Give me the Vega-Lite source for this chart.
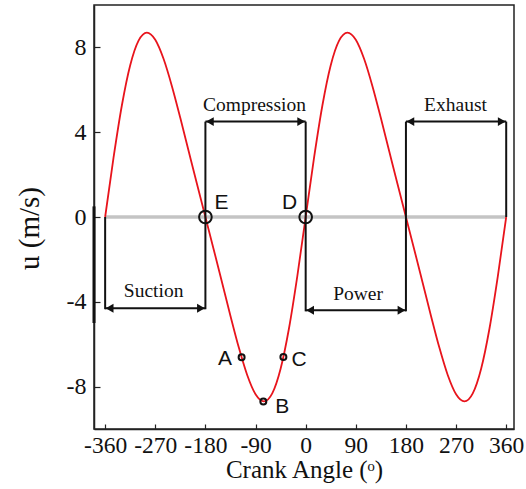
{
  "$schema": "https://vega.github.io/schema/vega-lite/v6.json",
  "width": 420,
  "height": 424,
  "autosize": "none",
  "padding": {"left": 94, "top": 5, "right": 12, "bottom": 60},
  "background": "white",
  "config": {
    "view": {"stroke": "#222", "strokeWidth": 1.5},
    "axis": {
      "labelFont": "Liberation Serif",
      "titleFont": "Liberation Serif",
      "labelColor": "#111",
      "titleColor": "#111",
      "titleFontWeight": "normal",
      "domainColor": "#222",
      "domainWidth": 1.5,
      "tickColor": "#222",
      "tickWidth": 1.2,
      "grid": false
    }
  },
  "datasets": {
    "curve": [
      {"theta": -360, "u": 0}, {"theta": -345, "u": 2.787}, {"theta": -330, "u": 5.258},
      {"theta": -315, "u": 7.157}, {"theta": -300, "u": 8.318}, {"theta": -285, "u": 8.698},
      {"theta": -270, "u": 8.36}, {"theta": -255, "u": 7.452}, {"theta": -240, "u": 6.161},
      {"theta": -225, "u": 4.666}, {"theta": -210, "u": 3.102}, {"theta": -195, "u": 1.541},
      {"theta": -180, "u": 0}, {"theta": -165, "u": -1.541}, {"theta": -150, "u": -3.102},
      {"theta": -135, "u": -4.666}, {"theta": -120, "u": -6.161}, {"theta": -105, "u": -7.452},
      {"theta": -90, "u": -8.36}, {"theta": -75, "u": -8.698}, {"theta": -60, "u": -8.318},
      {"theta": -45, "u": -7.157}, {"theta": -30, "u": -5.258}, {"theta": -15, "u": -2.787},
      {"theta": 0, "u": 0}, {"theta": 15, "u": 2.787}, {"theta": 30, "u": 5.258},
      {"theta": 45, "u": 7.157}, {"theta": 60, "u": 8.318}, {"theta": 75, "u": 8.698},
      {"theta": 90, "u": 8.36}, {"theta": 105, "u": 7.452}, {"theta": 120, "u": 6.161},
      {"theta": 135, "u": 4.666}, {"theta": 150, "u": 3.102}, {"theta": 165, "u": 1.541},
      {"theta": 180, "u": 0}, {"theta": 195, "u": -1.541}, {"theta": 210, "u": -3.102},
      {"theta": 225, "u": -4.666}, {"theta": 240, "u": -6.161}, {"theta": 255, "u": -7.452},
      {"theta": 270, "u": -8.36}, {"theta": 285, "u": -8.698}, {"theta": 300, "u": -8.318},
      {"theta": 315, "u": -7.157}, {"theta": 330, "u": -5.258}, {"theta": 345, "u": -2.787},
      {"theta": 360, "u": 0}
    ],
    "vlines": [
      {"x": -360, "y": 0, "y2": -4.35},
      {"x": -180, "y": 4.5, "y2": -4.35},
      {"x": 0, "y": 4.5, "y2": -4.45},
      {"x": 180, "y": 4.5, "y2": -4.45},
      {"x": 360, "y": 4.5, "y2": 0}
    ],
    "hlines": [
      {"x": -360, "x2": -180, "y": -4.3},
      {"x": -180, "x2": 0, "y": 4.5},
      {"x": 0, "x2": 180, "y": -4.4},
      {"x": 180, "x2": 360, "y": 4.5}
    ],
    "heads": [
      {"x": -352, "y": -4.3, "dir": "left"}, {"x": -188, "y": -4.3, "dir": "right"},
      {"x": -172, "y": 4.5, "dir": "left"}, {"x": -8, "y": 4.5, "dir": "right"},
      {"x": 8, "y": -4.4, "dir": "left"}, {"x": 172, "y": -4.4, "dir": "right"},
      {"x": 188, "y": 4.5, "dir": "left"}, {"x": 352, "y": 4.5, "dir": "right"}
    ],
    "phases": [
      {"x": -273, "y": -3.5, "label": "Suction"},
      {"x": -92, "y": 5.3, "label": "Compression"},
      {"x": 94, "y": -3.65, "label": "Power"},
      {"x": 269, "y": 5.3, "label": "Exhaust"}
    ],
    "bigpts": [{"x": -180, "y": 0}, {"x": 0, "y": 0}],
    "smallpts": [{"x": -115, "y": -6.62}, {"x": -76, "y": -8.7}, {"x": -40, "y": -6.6}],
    "letters": [
      {"x": -151, "y": 0.67, "label": "E"},
      {"x": -29, "y": 0.67, "label": "D"},
      {"x": -145, "y": -6.7, "label": "A"},
      {"x": -42, "y": -8.95, "label": "B"},
      {"x": -12, "y": -6.75, "label": "C"}
    ]
  },
  "layer": [
    {
      "data": {"values": [{"x": -360, "x2": 360, "y": 0}]},
      "mark": {"type": "rule", "color": "#c4c4c4", "strokeWidth": 3.5},
      "encoding": {
        "x": {"field": "x", "type": "quantitative",
          "scale": {"domain": [-380, 374], "nice": false, "zero": false},
          "axis": {
            "values": [-360, -270, -180, -90, 0, 90, 180, 270, 360],
            "labelExpr": "'' + datum.value",
            "labelFontSize": 23.5,
            "labelPadding": 9,
            "labelFlush": false,
            "labelOverlap": false,
            "tickSize": -5,
            "title": "Crank Angle (ᵒ)",
            "titleFontSize": 25,
            "titlePadding": 1
          }
        },
        "x2": {"field": "x2"},
        "y": {"field": "y", "type": "quantitative",
          "scale": {"domain": [-10, 10], "nice": false},
          "axis": {
            "values": [-8, -4, 0, 4, 8],
            "labelExpr": "'' + datum.value",
            "labelFontSize": 24,
            "labelPadding": 14,
            "tickSize": -6,
            "title": "u (m/s)",
            "titleFontSize": 29,
            "titlePadding": 22,
            "titleY": 223
          }
        }
      }
    },
    {
      "data": {"name": "curve"},
      "mark": {"type": "line", "color": "#e8141c", "strokeWidth": 1.8, "interpolate": "monotone"},
      "encoding": {
        "x": {"field": "theta", "type": "quantitative"},
        "y": {"field": "u", "type": "quantitative"}
      }
    },
    {
      "data": {"values": [{"x": -380, "y": 0.5, "y2": -5}]},
      "mark": {"type": "rule", "color": "#111", "strokeWidth": 3},
      "encoding": {
        "x": {"field": "x", "type": "quantitative"},
        "y": {"field": "y", "type": "quantitative"},
        "y2": {"field": "y2"}
      }
    },
    {
      "data": {"name": "vlines"},
      "mark": {"type": "rule", "color": "#111", "strokeWidth": 2},
      "encoding": {
        "x": {"field": "x", "type": "quantitative"},
        "y": {"field": "y", "type": "quantitative"},
        "y2": {"field": "y2"}
      }
    },
    {
      "data": {"name": "hlines"},
      "mark": {"type": "rule", "color": "#111", "strokeWidth": 2},
      "encoding": {
        "x": {"field": "x", "type": "quantitative"},
        "x2": {"field": "x2"},
        "y": {"field": "y", "type": "quantitative"}
      }
    },
    {
      "data": {"name": "heads"},
      "mark": {"type": "point", "filled": true, "color": "#111", "size": 80, "opacity": 1},
      "encoding": {
        "x": {"field": "x", "type": "quantitative"},
        "y": {"field": "y", "type": "quantitative"},
        "shape": {"field": "dir", "type": "nominal",
          "scale": {"domain": ["left", "right"], "range": ["triangle-left", "triangle-right"]},
          "legend": null}
      }
    },
    {
      "data": {"name": "phases"},
      "mark": {"type": "text", "font": "Liberation Serif", "fontSize": 19.5, "color": "#111", "align": "center", "baseline": "middle"},
      "encoding": {
        "x": {"field": "x", "type": "quantitative"},
        "y": {"field": "y", "type": "quantitative"},
        "text": {"field": "label"}
      }
    },
    {
      "data": {"name": "bigpts"},
      "mark": {"type": "point", "shape": "circle", "filled": false, "color": "#111", "size": 160, "strokeWidth": 2, "opacity": 1},
      "encoding": {
        "x": {"field": "x", "type": "quantitative"},
        "y": {"field": "y", "type": "quantitative"}
      }
    },
    {
      "data": {"name": "smallpts"},
      "mark": {"type": "point", "shape": "circle", "filled": false, "color": "#111", "size": 36, "strokeWidth": 2, "opacity": 1},
      "encoding": {
        "x": {"field": "x", "type": "quantitative"},
        "y": {"field": "y", "type": "quantitative"}
      }
    },
    {
      "data": {"name": "letters"},
      "mark": {"type": "text", "font": "Liberation Sans", "fontSize": 21, "color": "#111", "align": "center", "baseline": "middle"},
      "encoding": {
        "x": {"field": "x", "type": "quantitative"},
        "y": {"field": "y", "type": "quantitative"},
        "text": {"field": "label"}
      }
    }
  ]
}
